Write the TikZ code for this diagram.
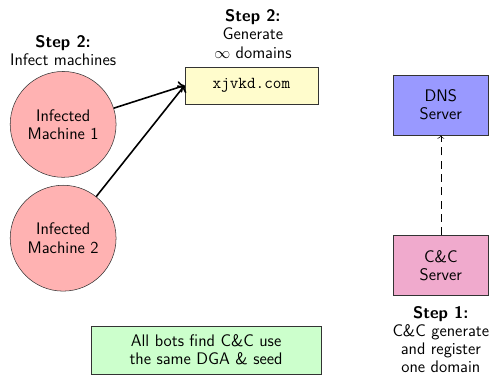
\documentclass[tikz,border=0pt]{standalone}
\usepackage{amsmath,amssymb}
\usepackage{tikz}
\usetikzlibrary{arrows.meta,shapes.geometric,positioning,calc}

\definecolor{ccpink}{RGB}{240,170,205}

\begin{document}
\begin{tikzpicture}[
    every node/.style={font=\sffamily\fontsize{12.6}{13.6}\selectfont},
    machine/.style={circle, draw=black!80, fill=red!30, minimum size=2.8cm, align=center},
    box/.style={draw=black!80, minimum width=2.51cm, minimum height=1.59cm, align=center},
    note/.style={align=center},
    arr/.style={->, line width=1.2pt}
]
\useasboundingbox (0,0) rectangle (13.04,-9.95);

\node[note] (infect) at (1.67,-1.34) {\textbf{Step 2:}\\Infect machines};
\node[machine] (m1) at (1.67,-3.29) {Infected\\Machine 1};
\node[machine] (m2) at (1.67,-6.30) {Infected\\Machine 2};

\node[note] (gen) at (6.69,-0.90) {\textbf{Step 2:}\\Generate\\$\infty$ domains};
\node[draw=black!80, fill=yellow!20, minimum width=3.52cm, minimum height=0.98cm,
      font=\ttfamily\fontsize{12.6}{13.6}\selectfont] (domain) at (6.65,-2.26) {xjvkd.com};

\node[box, fill=blue!40] (dns) at (11.66,-2.78) {DNS\\Server};
\node[box, fill=ccpink] (cc) at (11.66,-7.02) {C\&C\\Server};
\node[note] (reg) at (11.66,-8.98) {\textbf{Step 1:}\\C\&C generate\\and register\\one domain};

\node[draw=black!80, fill=green!20, minimum width=6.09cm, minimum height=1.27cm, align=center] (same) at (5.45,-9.26) {All bots find C\&C use\\the same DGA \& seed};

\draw[arr] (m1) -- (domain.west);
\draw[arr] (m2) -- (domain.west);
\draw[->, dash pattern=on 6pt off 4pt] (cc) -- (dns);
\end{tikzpicture}
\end{document}
